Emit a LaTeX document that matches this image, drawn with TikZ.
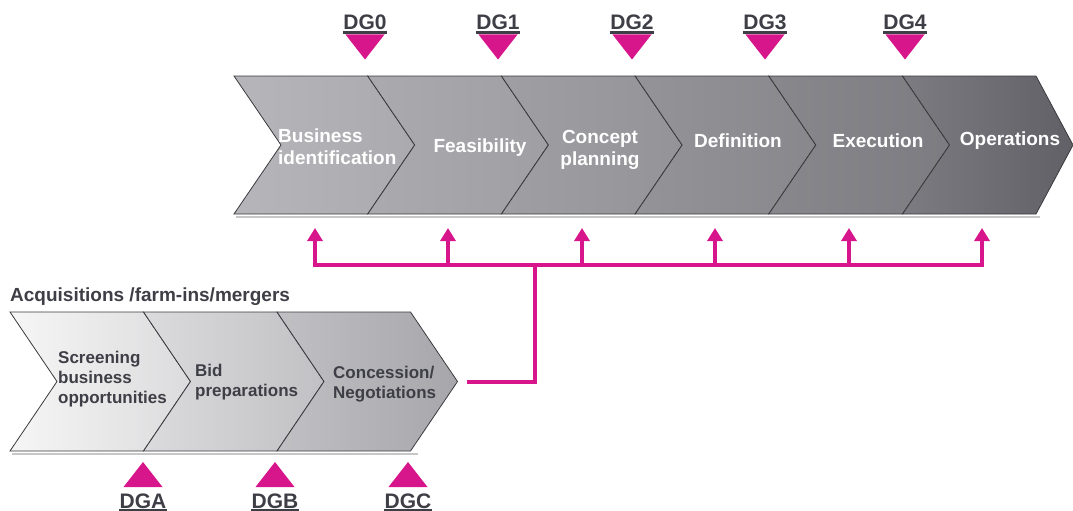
\documentclass[tikz,border=0pt]{standalone}
\usepackage{fontspec}
\setmainfont{Liberation Sans}
\usetikzlibrary{arrows.meta,calc}

\definecolor{mag}{RGB}{216,22,140}
\definecolor{ink}{RGB}{62,62,70}
\definecolor{edge}{RGB}{58,58,62}
\definecolor{topL}{RGB}{182,182,186}
\definecolor{topR}{RGB}{112,112,118}
\definecolor{topEnd}{RGB}{96,96,102}
\definecolor{lowL}{RGB}{246,246,246}
\definecolor{lowR}{RGB}{166,166,171}

\begin{document}
\begin{tikzpicture}[x=1pt,y=-1pt,
  chev/.style={draw=edge,line width=0.8pt,line join=miter},
  shadowline/.style={draw=black!22,line width=2pt},
  phase/.style={font=\bfseries\fontsize{19}{22}\selectfont,text=white,inner sep=0pt},
  step2/.style={font=\bfseries\fontsize{17}{20}\selectfont,text=ink,inner sep=0pt,align=left,anchor=west},
  gate/.style={font=\bfseries\fontsize{21}{24}\selectfont,text=ink,inner sep=0pt,anchor=base},
  uline/.style={draw=ink,line width=2.4pt},
  bus/.style={draw=mag,line width=3.2pt},
  tip/.style={-{Triangle[width=15pt,length=13pt]}},
]
\useasboundingbox (0,0) rectangle (1073,511);

% ---- project phases (upper band) ----
\draw[shadowline] (236,217) -- (1040,217);
\foreach \i in {0,...,4} {
  \pgfmathsetmacro\xa{234+133.7*\i}
  \pgfmathsetmacro\pa{100-100*\i/6}
  \pgfmathsetmacro\pb{100-100*(\i+1)/6}
  \path[chev,left color=topL!\pa!topR,right color=topL!\pb!topR]
    (\xa,76) -- ++(133.7,0) -- ++(47,69) -- ++(-47,69) -- ++(-133.7,0) -- ++(47,-69) -- cycle;
}
\path[chev,left color=topL!16.7!topR,right color=topEnd]
  (902.5,76) -- (1036,76) -- (1073,145) -- (1036,214) -- (902.5,214) -- (949.5,145) -- cycle;

\node[phase,align=left,anchor=west] (p1) at (278,147) {Business\\identification};
\node[phase] (p2) at (480,148) {Feasibility};
\node[phase,align=center] (p3) at (600,150) {Concept\\planning};
\node[phase] (p4) at (738,141) {Definition};
\node[phase] (p5) at (878,141) {Execution};
\node[phase] (p6) at (1010,141) {Operations};

% ---- decision gates DG0..DG4 ----
\foreach \n/\x in {0/365,1/498,2/632,3/765,4/905} {
  \node[gate] (dg\n) at (\x,30) {DG\n};
  \draw[uline] ($(dg\n.base west)+(0,2.6)$) -- ($(dg\n.base east)+(0,2.6)$);
  \fill[mag] ($(dg\n.base)+(-19.5,4.5)$) -- ++(39,0) -- ++(-19.5,25) -- cycle;
}

% ---- acquisitions (lower band) ----
\node[font=\bfseries\fontsize{19}{22}\selectfont,text=ink,inner sep=0pt,anchor=west]
  (acq) at (10,297) {Acquisitions /farm-ins/mergers};
\draw[shadowline] (12,454) -- (418,454);
\foreach \i in {0,...,2} {
  \pgfmathsetmacro\xa{10+133.5*\i}
  \pgfmathsetmacro\pa{100-100*\i/3}
  \pgfmathsetmacro\pb{100-100*(\i+1)/3}
  \path[chev,left color=lowL!\pa!lowR,right color=lowL!\pb!lowR]
    (\xa,312) -- ++(133.5,0) -- ++(47,69.5) -- ++(-47,69.5) -- ++(-133.5,0) -- ++(47,-69.5) -- cycle;
}
\node[step2] (a1) at (58,379) {Screening\\business\\opportunities};
\node[step2] (a2) at (195,382) {Bid\\preparations};
\node[step2] (a3) at (333,384) {Concession/\\Negotiations};

% ---- decision gates DGA..DGC ----
\foreach \n/\x in {A/143,B/275,C/408} {
  \node[gate] (dg\n) at (\x,508) {DG\n};
  \draw[uline] ($(dg\n.base west)+(0,2.6)$) -- ($(dg\n.base east)+(0,2.6)$);
  \fill[mag] ($(dg\n.base)+(-19.5,-21)$) -- ++(39,0) -- ++(-19.5,-25) -- cycle;
}

% ---- magenta link from acquisitions to all phases ----
\coordinate (feed) at (467,382);
\coordinate (hub) at (535,265);
\foreach \k/\x in {1/315,2/448,3/582,4/715,5/849,6/982} {
  \coordinate (b\k) at (\x,265);
  \coordinate (t\k) at (\x,228);
}
\draw[bus] (feed) -| (hub);
\draw[bus,line cap=rect] (b1) -- (b6);
\foreach \k in {1,...,6} {
  \draw[bus,tip] (b\k) -- (t\k);
}
\end{tikzpicture}
\end{document}
